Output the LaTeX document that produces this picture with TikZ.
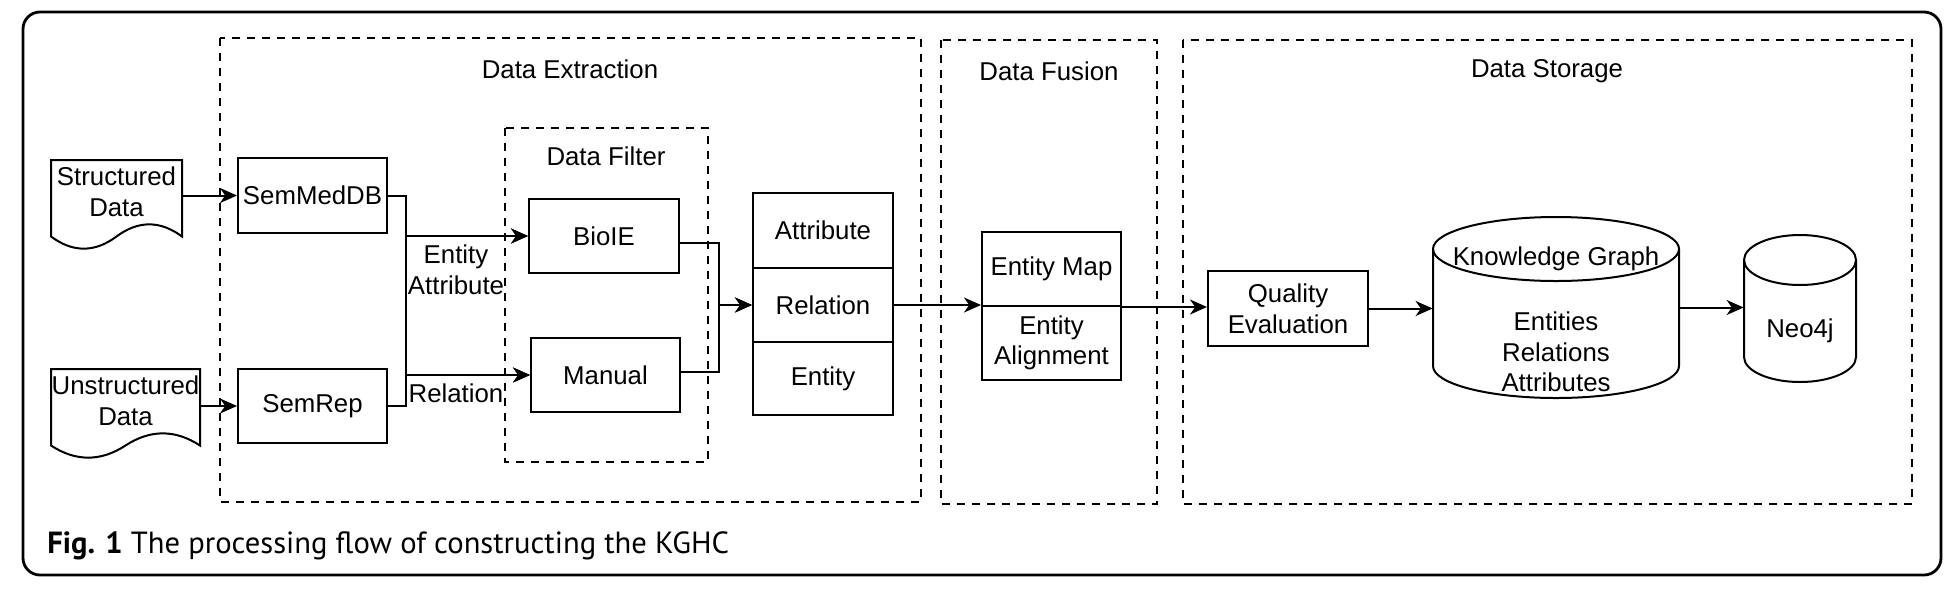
\documentclass[tikz,border=0pt]{standalone}
\usepackage{fontspec}
\setmainfont{Liberation Sans}
\newfontfamily\capfont{PT Sans}
\usetikzlibrary{arrows.meta,calc}
\newcommand\docshape[4]{%
  \draw[ln] (#1,#2) -- ({#1+#3},#2) -- ({#1+#3},{#2+0.85*#4})
    .. controls ({#1+#3-#3/6},{#2+0.67*#4}) and ({#1+#3/2+#3/6},{#2+0.67*#4}) .. ({#1+#3/2},{#2+0.85*#4})
    .. controls ({#1+#3/2-#3/6},{#2+1.03*#4}) and ({#1+#3/6},{#2+1.03*#4}) .. (#1,{#2+0.85*#4}) -- cycle;}
\begin{document}
\begin{tikzpicture}[x=0.5pt,y=-0.5pt,
  every node/.style={font=\fontsize{12.9pt}{15.3pt}\selectfont, align=center, inner sep=0pt},
  ln/.style={line width=1pt},
  blk/.style={draw, line width=1pt},
  grp/.style={draw, line width=0.9pt, dash pattern=on 4pt off 3.5pt},
  arr/.style={line width=1pt, -{Stealth[length=8.5pt,width=7.5pt,inset=2.6pt]}}]
\useasboundingbox (0,0) rectangle (1958,590);
\draw[line width=1.4pt, rounded corners=8.5pt] (23,12) rectangle (1941,575);

% groups
\draw[grp] (220,38) rectangle (921,502);
\node (deL) at (570,69) {Data Extraction};
\draw[grp] (505,128) rectangle (708,462);
\node (dfL) at (606,156) {Data Filter};
\draw[grp] (941,40) rectangle (1157,504);
\node (dfuL) at (1049,71) {Data Fusion};
\draw[grp] (1183,40) rectangle (1912,504);
\node (dsL) at (1547,71) {Data Storage};

% documents
\docshape{51}{160}{131}{90}
\node[minimum width=65.5pt, minimum height=45pt] (sd) at (116.5,205) {};
\node (sdt) at (116.5,191.5) {Structured\\Data};
\docshape{51}{369}{149}{90}
\node[minimum width=74.5pt, minimum height=45pt] (ud) at (125.5,414) {};
\node (udt) at (125.5,401) {Unstructured\\Data};

% boxes
\node[blk, minimum width=74.5pt, minimum height=37.5pt] (sem) at (312.5,195.5) {SemMedDB};
\node[blk, minimum width=74.5pt, minimum height=37pt] (rep) at (312.5,406) {SemRep};
\node[blk, minimum width=75pt, minimum height=37pt] (bio) at (604,236) {BioIE};
\node[blk, minimum width=74.5pt, minimum height=37pt] (man) at (605.5,375) {Manual};

\node[blk, minimum width=70pt, minimum height=37.5pt] (attr) at (823,230.5) {Attribute};
\node[blk, minimum width=70pt, minimum height=37pt] (rel) at (823,305) {Relation};
\node[blk, minimum width=70pt, minimum height=36.5pt] (ent) at (823,378.5) {Entity};

\node[blk, minimum width=69.5pt, minimum height=37pt] (map) at (1051.5,269) {Entity Map};
\node[blk, minimum width=69.5pt, minimum height=37pt] (ali) at (1051.5,343) {Entity\\Alignment};

\node[blk, minimum width=80pt, minimum height=37.5pt] (qe) at (1288,308.5) {Quality\\Evaluation};

% cylinders
\node[minimum width=123pt, minimum height=90.5pt] (kg) at (1556,307.5) {};
\draw[ln] (1433,249) -- (1433,366) arc[start angle=180,end angle=360,x radius=61.5pt,y radius=16pt]
  -- (1679,249) arc[start angle=0,end angle=180,x radius=61.5pt,y radius=16pt] -- cycle;
\draw[ln] (1433,249) arc[start angle=180,end angle=360,x radius=61.5pt,y radius=16pt];
\node (kgt) at (1556,259) {Knowledge Graph};
\node (kgb) at (1556,352) {Entities\\Relations\\Attributes};

\node[minimum width=56pt, minimum height=73.5pt] (neo) at (1800,308.5) {};
\draw[ln] (1744,260) -- (1744,357) arc[start angle=180,end angle=360,x radius=28pt,y radius=12.5pt]
  -- (1856,260) arc[start angle=0,end angle=180,x radius=28pt,y radius=12.5pt] -- cycle;
\draw[ln] (1744,260) arc[start angle=180,end angle=360,x radius=28pt,y radius=12.5pt];
\node (neot) at (1800,331) {Neo4j};

% connectors
\coordinate (jl) at (406,0);
\coordinate (jr) at (719,0);
\draw[arr] (sd.east |- sem.west) -- (sem.west);
\draw[arr] (ud.east |- rep.west) -- (rep.west);
\draw[arr] (sem.east) -- (sem.east -| jl) |- (bio.west);
\draw[arr] (sem.east) -- (sem.east -| jl) |- (man.west);
\draw[arr] (rep.east) -- (rep.east -| jl) |- (man.west);
\draw[arr] (rep.east) -- (rep.east -| jl) |- (bio.west);
\node (lab1) at (456,270) {Entity\\Attribute};
\node (lab2) at (456,393) {Relation};
\draw[arr] ([yshift=-3.5pt]bio.east) -- ([yshift=-3.5pt]bio.east -| jr) |- (rel.west);
\draw[arr] ([yshift=1.5pt]man.east) -- ([yshift=1.5pt]man.east -| jr) |- (rel.west);
\draw[arr] (rel.east) -- (rel.east -| map.west);
\draw[arr] (map.south east) -- (map.south east -| qe.west);
\draw[arr] (qe.east) -- (qe.east -| kg.west);
\draw[arr] (kg.east) -- (kg.east -| neo.west);

% caption
\node[anchor=base west, font=\capfont\fontsize{15.3pt}{18pt}\selectfont] (cap) at (47,553)
  {\textbf{Fig. 1} The processing flow of constructing the KGHC};
\end{tikzpicture}
\end{document}
